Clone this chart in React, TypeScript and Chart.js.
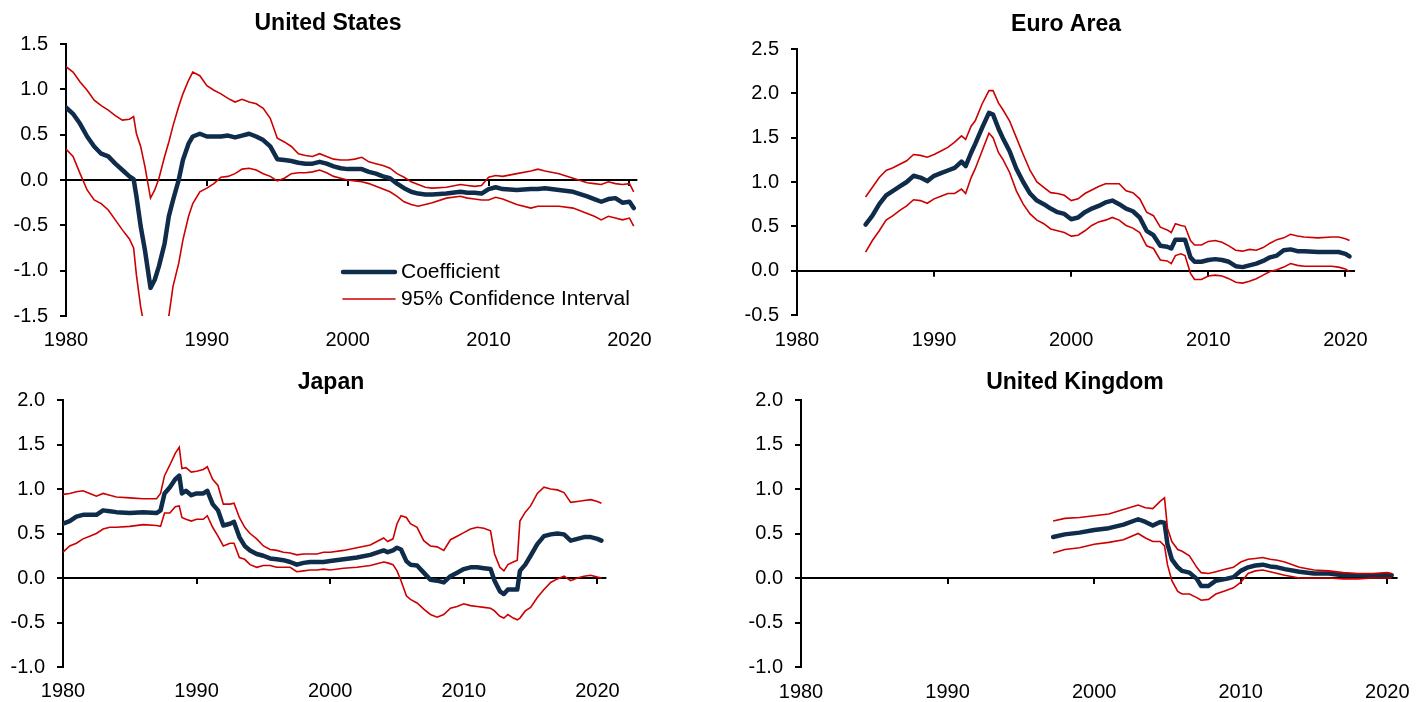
import React, { useEffect, useRef } from 'react';
import { Chart, registerables } from 'chart.js';

Chart.register(...registerables);

const FONT = '"Liberation Sans", Arial, Helvetica, sans-serif';
const COEF_COLOR = '#0f2d4b';
const CI_COLOR = '#cc0000';

const DECADES = [1980, 1990, 2000, 2010, 2020];
const LEGEND_LABELS = ['Coefficient', '95% Confidence Interval'];

const Y_TICKS_US = [-1.5, -1.0, -0.5, 0, 0.5, 1.0, 1.5];
const Y_TICKS_EA = [-0.5, 0, 0.5, 1.0, 1.5, 2.0, 2.5];
const Y_TICKS_JP = [-1.0, -0.5, 0, 0.5, 1.0, 1.5, 2.0];
const Y_TICKS_UK = [-1.0, -0.5, 0, 0.5, 1.0, 1.5, 2.0];

// ---------------- United States ----------------
const US_YEARS = [
  1980, 1980.5, 1981, 1981.5, 1982, 1982.5, 1983, 1983.5, 1984, 1984.5,
  1984.8, 1985, 1985.3, 1985.6, 1986, 1986.3, 1986.6, 1987, 1987.3, 1987.6,
  1988, 1988.3, 1988.7, 1989, 1989.5, 1990, 1990.5, 1991, 1991.5, 1992,
  1992.5, 1993, 1993.5, 1994, 1994.5, 1995, 1995.5, 1996, 1996.5, 1997,
  1997.5, 1998, 1998.5, 1999, 1999.5, 2000, 2000.5, 2001, 2001.5, 2002,
  2002.5, 2003, 2003.5, 2004, 2004.5, 2005, 2005.5, 2006, 2007, 2008,
  2008.5, 2009, 2009.5, 2010, 2010.5, 2011, 2012, 2013, 2013.5, 2014,
  2015, 2016, 2017, 2017.5, 2018, 2018.5, 2019, 2019.5, 2020, 2020.3,
];
const US_COEF = [
  0.80, 0.73, 0.62, 0.48, 0.37, 0.29, 0.26, 0.18, 0.11, 0.04,
  0.01, -0.18, -0.51, -0.77, -1.19, -1.10, -0.95, -0.70, -0.40, -0.22,
  0.00, 0.22, 0.40, 0.48, 0.51, 0.48, 0.48, 0.48, 0.49, 0.47,
  0.49, 0.51, 0.48, 0.44, 0.37, 0.23, 0.22, 0.21, 0.19, 0.18,
  0.18, 0.20, 0.18, 0.15, 0.13, 0.12, 0.12, 0.12, 0.09, 0.07,
  0.04, 0.02, -0.04, -0.09, -0.13, -0.15, -0.16, -0.16, -0.15, -0.13,
  -0.14, -0.14, -0.15, -0.10, -0.08, -0.10, -0.11, -0.10, -0.10, -0.09,
  -0.11, -0.13, -0.18, -0.21, -0.24, -0.21, -0.20, -0.25, -0.24, -0.31,
];
const US_UPPER = [
  1.25, 1.19, 1.08, 0.99, 0.88, 0.82, 0.77, 0.71, 0.66, 0.67,
  0.70, 0.51, 0.37, 0.15, -0.20, -0.11, 0.02, 0.26, 0.42, 0.60,
  0.81, 0.95, 1.10, 1.19, 1.15, 1.04, 0.99, 0.95, 0.90, 0.86,
  0.89, 0.86, 0.84, 0.79, 0.68, 0.46, 0.42, 0.37, 0.29, 0.27,
  0.26, 0.29, 0.26, 0.23, 0.22, 0.22, 0.23, 0.25, 0.20, 0.18,
  0.16, 0.13, 0.07, 0.03, -0.02, -0.05, -0.08, -0.09, -0.08, -0.05,
  -0.06, -0.07, -0.06, 0.03, 0.05, 0.04, 0.07, 0.10, 0.12, 0.10,
  0.07, 0.02, -0.03, -0.04, -0.05, -0.02, -0.04, -0.05, -0.04, -0.13,
];
const US_LOWER = [
  0.34, 0.26, 0.07, -0.11, -0.22, -0.26, -0.33, -0.44, -0.55, -0.65,
  -0.75, -1.05, -1.40, -1.65, -2.10, -2.20, -2.00, -1.75, -1.50, -1.17,
  -0.92, -0.66, -0.40, -0.26, -0.13, -0.09, -0.04, 0.03, 0.04, 0.07,
  0.12, 0.13, 0.11, 0.07, 0.04, -0.01, 0.02, 0.07, 0.08, 0.08,
  0.09, 0.11, 0.08, 0.04, 0.02, 0.00, -0.01, -0.02, -0.04, -0.07,
  -0.10, -0.13, -0.18, -0.24, -0.27, -0.29, -0.27, -0.25, -0.20, -0.18,
  -0.20, -0.21, -0.22, -0.22, -0.19, -0.21, -0.27, -0.31, -0.29, -0.29,
  -0.29, -0.31, -0.37, -0.40, -0.44, -0.40, -0.42, -0.44, -0.42, -0.51,
];

// ---------------- Euro Area ----------------
const EA_YEARS = [
  1985, 1985.5, 1986, 1986.5, 1987, 1987.5, 1988, 1988.5, 1989, 1989.5,
  1990, 1990.5, 1991, 1991.5, 1992, 1992.3, 1992.7, 1993, 1993.5, 1994,
  1994.3, 1994.7, 1995, 1995.5, 1996, 1996.5, 1997, 1997.5, 1998, 1998.5,
  1999, 1999.5, 2000, 2000.5, 2001, 2001.5, 2002, 2002.5, 2003, 2003.5,
  2004, 2004.5, 2005, 2005.5, 2006, 2006.5, 2007, 2007.3, 2007.6, 2008,
  2008.3, 2008.7, 2009, 2009.5, 2010, 2010.5, 2011, 2011.5, 2012, 2012.5,
  2013, 2013.5, 2014, 2014.5, 2015, 2015.5, 2016, 2016.5, 2017, 2018,
  2019, 2019.5, 2020, 2020.3,
];
const EA_COEF = [
  0.52, 0.62, 0.75, 0.85, 0.90, 0.95, 1.00, 1.07, 1.05, 1.01,
  1.07, 1.10, 1.13, 1.16, 1.23, 1.18, 1.33, 1.43, 1.61, 1.78,
  1.76, 1.60, 1.50, 1.35, 1.15, 1.00, 0.87, 0.79, 0.75, 0.70,
  0.66, 0.64, 0.58, 0.60, 0.66, 0.70, 0.73, 0.77, 0.79, 0.75,
  0.70, 0.67, 0.60, 0.45, 0.40, 0.28, 0.27, 0.25, 0.35, 0.35,
  0.35, 0.15, 0.10, 0.10, 0.12, 0.13, 0.12, 0.10, 0.05, 0.04,
  0.06, 0.08, 0.11, 0.15, 0.17, 0.23, 0.24, 0.22, 0.22, 0.21,
  0.21, 0.21, 0.19, 0.16,
];
const EA_UPPER = [
  0.83, 0.94, 1.05, 1.13, 1.16, 1.20, 1.24, 1.31, 1.30, 1.28,
  1.31, 1.35, 1.39, 1.45, 1.52, 1.48, 1.63, 1.69, 1.88, 2.03,
  2.03, 1.89, 1.82, 1.69, 1.50, 1.31, 1.13, 1.00, 0.94, 0.88,
  0.87, 0.85, 0.79, 0.81, 0.87, 0.91, 0.95, 0.98, 0.98, 0.98,
  0.90, 0.88, 0.81, 0.66, 0.62, 0.49, 0.46, 0.43, 0.53, 0.51,
  0.50, 0.34, 0.29, 0.29, 0.33, 0.34, 0.32, 0.28, 0.23, 0.22,
  0.24, 0.23, 0.26, 0.31, 0.35, 0.37, 0.41, 0.39, 0.38, 0.37,
  0.38, 0.38, 0.36, 0.34,
];
const EA_LOWER = [
  0.21, 0.34, 0.45, 0.57, 0.62, 0.68, 0.73, 0.80, 0.79, 0.76,
  0.81, 0.84, 0.87, 0.87, 0.92, 0.87, 1.05, 1.15, 1.35, 1.55,
  1.50, 1.33, 1.26, 1.11, 0.90, 0.75, 0.64, 0.57, 0.53, 0.47,
  0.45, 0.43, 0.39, 0.40, 0.45, 0.51, 0.55, 0.57, 0.60, 0.57,
  0.51, 0.48, 0.43, 0.28, 0.25, 0.12, 0.11, 0.08, 0.17, 0.19,
  0.17, -0.03, -0.10, -0.10, -0.06, -0.05, -0.06, -0.09, -0.13, -0.14,
  -0.12, -0.09, -0.05, -0.01, 0.01, 0.04, 0.08, 0.06, 0.05, 0.05,
  0.05, 0.04, 0.02, -0.01,
];

// ---------------- Japan ----------------
const JP_YEARS = [
  1980, 1980.5, 1981, 1981.5, 1982, 1982.5, 1983, 1983.5, 1984, 1985,
  1986, 1987, 1987.3, 1987.6, 1988, 1988.4, 1988.7, 1988.9, 1989.2, 1989.6,
  1990, 1990.5, 1990.8, 1991.2, 1991.6, 1992, 1992.5, 1992.8, 1993.2, 1993.6,
  1994, 1994.5, 1995, 1995.5, 1996, 1996.5, 1997, 1997.5, 1998, 1998.5,
  1999, 1999.5, 2000, 2001, 2002, 2003, 2004, 2004.3, 2004.7, 2005,
  2005.3, 2005.7, 2006, 2006.5, 2007, 2007.5, 2008, 2008.5, 2009, 2009.5,
  2010, 2010.5, 2011, 2011.5, 2012, 2012.3, 2012.7, 2013, 2013.3, 2013.7,
  2014, 2014.2, 2014.6, 2015, 2015.5, 2016, 2016.5, 2017, 2017.5, 2018,
  2018.5, 2019, 2019.5, 2020, 2020.3,
];
const JP_COEF = [
  0.61, 0.64, 0.69, 0.71, 0.71, 0.71, 0.76, 0.75, 0.74, 0.73,
  0.74, 0.73, 0.76, 0.95, 1.02, 1.11, 1.15, 0.95, 0.98, 0.93,
  0.95, 0.95, 0.98, 0.83, 0.76, 0.59, 0.61, 0.63, 0.46, 0.36,
  0.31, 0.27, 0.25, 0.22, 0.21, 0.20, 0.18, 0.15, 0.17, 0.18,
  0.18, 0.18, 0.19, 0.21, 0.23, 0.26, 0.31, 0.29, 0.31, 0.34,
  0.32, 0.19, 0.15, 0.14, 0.06, -0.02, -0.03, -0.05, 0.02, 0.06,
  0.10, 0.12, 0.12, 0.11, 0.10, -0.03, -0.15, -0.18, -0.13, -0.13,
  -0.13, 0.08, 0.15, 0.25, 0.38, 0.47, 0.49, 0.50, 0.49, 0.42,
  0.44, 0.46, 0.46, 0.44, 0.42,
];
const JP_UPPER = [
  0.94, 0.95, 0.97, 0.98, 0.95, 0.92, 0.95, 0.93, 0.91, 0.90,
  0.89, 0.89, 0.95, 1.15, 1.27, 1.40, 1.47, 1.23, 1.24, 1.19,
  1.20, 1.22, 1.25, 1.11, 1.04, 0.83, 0.83, 0.84, 0.68, 0.57,
  0.50, 0.44, 0.36, 0.32, 0.31, 0.29, 0.28, 0.26, 0.27, 0.27,
  0.27, 0.29, 0.29, 0.31, 0.34, 0.37, 0.45, 0.41, 0.44, 0.61,
  0.70, 0.68, 0.61, 0.57, 0.42, 0.36, 0.35, 0.31, 0.43, 0.47,
  0.51, 0.55, 0.57, 0.56, 0.53, 0.27, 0.12, 0.08, 0.15, 0.18,
  0.20, 0.64, 0.74, 0.81, 0.95, 1.02, 1.00, 0.99, 0.96, 0.85,
  0.86, 0.87, 0.88, 0.86, 0.84,
];
const JP_LOWER = [
  0.29, 0.36, 0.39, 0.44, 0.47, 0.50, 0.55, 0.57, 0.57, 0.58,
  0.60, 0.59, 0.58, 0.73, 0.73, 0.80, 0.81, 0.68, 0.66, 0.64,
  0.66, 0.66, 0.70, 0.57, 0.47, 0.36, 0.39, 0.39, 0.23, 0.21,
  0.15, 0.12, 0.14, 0.14, 0.12, 0.12, 0.12, 0.07, 0.08, 0.09,
  0.09, 0.10, 0.09, 0.11, 0.12, 0.14, 0.18, 0.17, 0.15, 0.08,
  -0.03, -0.20, -0.24, -0.28, -0.35, -0.41, -0.44, -0.41, -0.34, -0.32,
  -0.29, -0.31, -0.32, -0.33, -0.34, -0.37, -0.43, -0.45, -0.41, -0.45,
  -0.47, -0.45, -0.37, -0.33, -0.22, -0.13, -0.05, -0.01, 0.02, -0.03,
  0.00, 0.02, 0.03, 0.01, 0.00,
];

// ---------------- United Kingdom ----------------
const UK_YEARS = [
  1997.2, 1998, 1999, 2000, 2001, 2002, 2003, 2003.5, 2004, 2004.5,
  2004.8, 2005, 2005.3, 2005.7, 2006, 2006.5, 2007, 2007.3, 2007.8, 2008.3,
  2009, 2009.5, 2010, 2010.5, 2011, 2011.5, 2012, 2012.5, 2013, 2014,
  2015, 2016, 2017, 2018, 2019, 2020, 2020.3,
];
const UK_COEF = [
  0.46, 0.49, 0.51, 0.54, 0.56, 0.60, 0.66, 0.63, 0.59, 0.63,
  0.62, 0.38, 0.21, 0.12, 0.08, 0.06, -0.01, -0.09, -0.09, -0.03,
  -0.01, 0.01, 0.08, 0.12, 0.14, 0.15, 0.13, 0.12, 0.10, 0.07,
  0.05, 0.05, 0.03, 0.03, 0.03, 0.03, 0.03,
];
const UK_UPPER = [
  0.64, 0.67, 0.68, 0.70, 0.72, 0.77, 0.82, 0.79, 0.78, 0.86,
  0.90, 0.56, 0.41, 0.32, 0.30, 0.25, 0.12, 0.06, 0.05, 0.07,
  0.10, 0.12, 0.18, 0.21, 0.22, 0.23, 0.21, 0.20, 0.18, 0.12,
  0.09, 0.08, 0.06, 0.05, 0.05, 0.06, 0.05,
];
const UK_LOWER = [
  0.28, 0.32, 0.34, 0.38, 0.40, 0.43, 0.50, 0.45, 0.41, 0.41,
  0.36, 0.15, -0.03, -0.15, -0.18, -0.18, -0.22, -0.25, -0.24, -0.18,
  -0.14, -0.11, -0.05, 0.05, 0.08, 0.09, 0.07, 0.05, 0.03, 0.00,
  0.00, 0.00, -0.01, -0.01, 0.00, 0.00, 0.00,
];

type PanelCfg = {
  title: string;
  years: number[];
  coef: number[];
  upper: number[];
  lower: number[];
  yTicks: number[];
  xMax: number;
  box: { left: number; top: number; width: number; height: number };
  axisWidth: number;
  padTop: number;
  padRight: number;
  xHeight: number;
  labelPad: number;
  titlePos: { x: number; y: number };
  legend?: { x: number; y: number; row: number; line: number; gap: number };
};

const PANELS: PanelCfg[] = [
  {
    title: 'United States', years: US_YEARS, coef: US_COEF, upper: US_UPPER, lower: US_LOWER,
    yTicks: Y_TICKS_US, xMax: 2020.56,
    box: { left: 0, top: 0, width: 664, height: 352 },
    axisWidth: 66, padTop: 44, padRight: 20, xHeight: 36, labelPad: 12,
    titlePos: { x: 328, y: 24 },
    legend: { x: 343, y: 272, row: 27, line: 52, gap: 6 },
  },
  {
    title: 'Euro Area', years: EA_YEARS, coef: EA_COEF, upper: EA_UPPER, lower: EA_LOWER,
    yTicks: Y_TICKS_EA, xMax: 2020.7,
    box: { left: 711, top: 0, width: 670, height: 352 },
    axisWidth: 86, padTop: 49, padRight: 20, xHeight: 37, labelPad: 13,
    titlePos: { x: 1066, y: 25 },
  },
  {
    title: 'Japan', years: JP_YEARS, coef: JP_COEF, upper: JP_UPPER, lower: JP_LOWER,
    yTicks: Y_TICKS_JP, xMax: 2020.67,
    box: { left: 0, top: 351, width: 632, height: 351 },
    axisWidth: 63, padTop: 49, padRight: 20, xHeight: 35, labelPad: 12,
    titlePos: { x: 331, y: 383 },
  },
  {
    title: 'United Kingdom', years: UK_YEARS, coef: UK_COEF, upper: UK_UPPER, lower: UK_LOWER,
    yTicks: Y_TICKS_UK, xMax: 2020.7,
    box: { left: 711, top: 351, width: 712, height: 351 },
    axisWidth: 90, padTop: 49, padRight: 25, xHeight: 35, labelPad: 13,
    titlePos: { x: 1075, y: 383 },
  },
];

const panelTitlePlugin = {
  id: 'panelTitle',
  afterDraw(chart: any, _args: any, opts: any) {
    if (!opts || !opts.text) return;
    const ctx = chart.ctx;
    ctx.save();
    ctx.font = `bold ${opts.size}px ${FONT}`;
    ctx.fillStyle = '#000';
    ctx.textAlign = 'center';
    ctx.textBaseline = 'middle';
    ctx.fillText(opts.text, opts.x, opts.y);
    ctx.restore();
  },
};

const decadeTicksPlugin = {
  id: 'decadeTicks',
  beforeDatasetsDraw(chart: any) {
    const xs = chart.scales.x;
    const ys = chart.scales.y;
    const y0 = ys.getPixelForValue(0);
    const ctx = chart.ctx;
    ctx.save();
    ctx.strokeStyle = '#000';
    ctx.lineWidth = 2;
    ctx.beginPath();
    DECADES.forEach((d) => {
      if (d <= xs.min) return;
      const px = Math.round(xs.getPixelForValue(d));
      ctx.moveTo(px, y0);
      ctx.lineTo(px, y0 + 6);
    });
    ctx.stroke();
    ctx.restore();
  },
};

const panelLegendPlugin = {
  id: 'panelLegend',
  afterDatasetsDraw(chart: any, _args: any, opts: any) {
    if (!opts || !opts.show) return;
    const ctx = chart.ctx;
    const styles = [
      { color: COEF_COLOR, width: 4.5 },
      { color: CI_COLOR, width: 1.6 },
    ];
    ctx.save();
    ctx.font = `21px ${FONT}`;
    ctx.textAlign = 'left';
    ctx.textBaseline = 'middle';
    LEGEND_LABELS.forEach((label, i) => {
      const y = opts.y + i * opts.row;
      ctx.strokeStyle = styles[i].color;
      ctx.lineWidth = styles[i].width;
      ctx.lineCap = 'round';
      ctx.beginPath();
      ctx.moveTo(opts.x, y);
      ctx.lineTo(opts.x + opts.line, y);
      ctx.stroke();
      ctx.fillStyle = '#000';
      ctx.fillText(label, opts.x + opts.line + opts.gap, y);
    });
    ctx.restore();
  },
};

function toPoints(xs: number[], ys: number[]) {
  return xs.map((x, i) => ({ x, y: ys[i] }));
}

function buildConfig(cfg: PanelCfg): any {
  const yMin = cfg.yTicks[0];
  const yMax = cfg.yTicks[cfg.yTicks.length - 1];
  return {
    type: 'line',
    data: {
      datasets: [
        {
          label: '95% Confidence Interval (upper)',
          data: toPoints(cfg.years, cfg.upper),
          borderColor: CI_COLOR,
          borderWidth: 1.6,
          pointRadius: 0,
          fill: false,
          tension: 0,
        },
        {
          label: '95% Confidence Interval (lower)',
          data: toPoints(cfg.years, cfg.lower),
          borderColor: CI_COLOR,
          borderWidth: 1.6,
          pointRadius: 0,
          fill: false,
          tension: 0,
        },
        {
          label: 'Coefficient',
          data: toPoints(cfg.years, cfg.coef),
          borderColor: COEF_COLOR,
          borderWidth: 4.5,
          borderJoinStyle: 'round',
          borderCapStyle: 'round',
          pointRadius: 0,
          fill: false,
          tension: 0,
        },
      ],
    },
    options: {
      responsive: false,
      maintainAspectRatio: false,
      animation: false,
      devicePixelRatio: 1,
      events: [],
      layout: { padding: { top: cfg.padTop, right: cfg.padRight, left: 0, bottom: 0 } },
      plugins: {
        legend: { display: false },
        tooltip: { enabled: false },
        title: { display: false },
        panelTitle: {
          text: cfg.title,
          size: 23,
          x: cfg.titlePos.x - cfg.box.left,
          y: cfg.titlePos.y - cfg.box.top,
        },
        panelLegend: cfg.legend
          ? {
              show: true,
              x: cfg.legend.x - cfg.box.left,
              y: cfg.legend.y - cfg.box.top,
              row: cfg.legend.row,
              line: cfg.legend.line,
              gap: cfg.legend.gap,
            }
          : { show: false },
      },
      scales: {
        x: {
          type: 'linear',
          min: 1980,
          max: cfg.xMax,
          afterBuildTicks: (s: any) => {
            s.ticks = DECADES.map((v) => ({ value: v }));
          },
          afterFit: (s: any) => {
            s.height = cfg.xHeight;
          },
          grid: { display: false, drawTicks: false },
          border: { display: false },
          ticks: {
            color: '#000',
            font: { family: FONT, size: 20 },
            padding: cfg.labelPad,
            maxRotation: 0,
            autoSkip: false,
            callback: (v: any) => String(v),
          },
        },
        y: {
          type: 'linear',
          min: yMin,
          max: yMax,
          afterBuildTicks: (s: any) => {
            s.ticks = cfg.yTicks.map((v) => ({ value: v }));
          },
          afterFit: (s: any) => {
            s.width = cfg.axisWidth;
          },
          grid: {
            display: true,
            drawOnChartArea: true,
            drawTicks: true,
            tickLength: 6,
            tickWidth: 2,
            tickColor: '#000',
            lineWidth: 2,
            color: (c: any) => (c.tick && c.tick.value === 0 ? '#000' : 'rgba(0,0,0,0)'),
          },
          border: { display: true, color: '#000', width: 2 },
          ticks: {
            color: '#000',
            font: { family: FONT, size: 20 },
            padding: 12,
            callback: (v: any) => Number(v).toFixed(1),
          },
        },
      },
    },
    plugins: [panelTitlePlugin, decadeTicksPlugin, panelLegendPlugin],
  };
}

function Panel({ cfg }: { cfg: PanelCfg }) {
  const ref = useRef<HTMLCanvasElement | null>(null);
  useEffect(() => {
    if (!ref.current) return;
    const chart = new Chart(ref.current, buildConfig(cfg));
    return () => chart.destroy();
  }, [cfg]);
  return (
    <canvas
      ref={ref}
      width={cfg.box.width}
      height={cfg.box.height}
      style={{
        position: 'absolute',
        left: cfg.box.left,
        top: cfg.box.top,
        width: cfg.box.width,
        height: cfg.box.height,
      }}
    />
  );
}

export default function App() {
  return (
    <div
      style={{
        position: 'absolute',
        left: 0,
        top: 0,
        width: 1423,
        height: 702,
        background: '#fff',
        overflow: 'hidden',
      }}
    >
      {PANELS.map((p) => (
        <Panel key={p.title} cfg={p} />
      ))}
    </div>
  );
}
